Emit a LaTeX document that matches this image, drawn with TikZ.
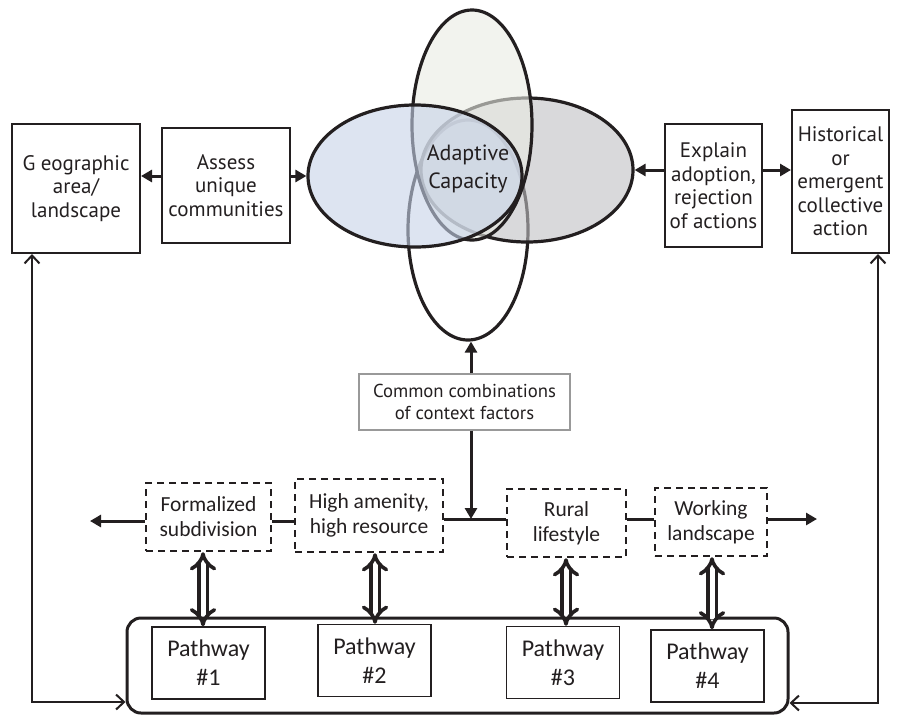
\documentclass[tikz,border=0pt]{standalone}
\usepackage{fontspec}
\setmainfont{PT Sans}
\newfontfamily\calfont{Carlito}
\usetikzlibrary{shapes.geometric,arrows.meta}
\definecolor{ink}{HTML}{231F20}
\definecolor{fillL}{HTML}{C6D2E8}
\definecolor{fillR}{HTML}{C0C0C3}
\definecolor{fillT}{HTML}{E9EBE3}
\begin{document}
\begin{tikzpicture}[x=1pt,y=-1pt,
  txt/.style={align=center, inner sep=0pt, text=ink},
  topbox/.style={txt, draw=ink, line width=1.4pt, font=\fontsize{21}{23.5}\selectfont},
  bigbox/.style={topbox, line width=2pt},
  ell/.style={ellipse, draw=ink, line width=3.2pt, inner sep=0pt, fill opacity=0.6},
  dbox/.style={txt, draw=ink, line width=2.4pt, dash pattern=on 7pt off 5pt, font=\calfont\fontsize{21.5}{25}\selectfont},
  pbox/.style={txt, draw=ink, line width=1.5pt, minimum width=113pt, minimum height=72pt, font=\calfont\fontsize{24}{29}\selectfont},
  farr/.style={draw=ink, line width=3pt, -{Triangle[length=11pt,width=12pt]}},
  fline/.style={draw=ink, line width=3pt},
  oarr/.style={draw=ink, line width=2pt, {Straight Barb[length=8pt,width=15pt]}-{Straight Barb[length=8pt,width=15pt]}},
  darr/.style={draw=ink, line width=3.6pt, double=white, double distance=5pt, {Implies}-{Implies}}
]
\useasboundingbox (0,0) rectangle (899,716);

% top boxes
\node[bigbox, minimum width=128pt, minimum height=129pt] (geo) at (76,188.5) {G eographic\\area/\\landscape};
\node[topbox, minimum width=128pt, minimum height=115pt] (assess) at (226,185.5) {Assess\\unique\\communities};
\node[topbox, minimum width=97pt, minimum height=123pt] (explain) at (713.5,185.5) {Explain\\adoption,\\rejection\\of actions};
\node[bigbox, minimum width=97pt, minimum height=143pt] (hist) at (840.5,181.5) {Historical\\or\\emergent\\collective\\action};

% ellipses
\node[ell, fill=white, fill opacity=0, minimum width=120pt, minimum height=220pt] (eB) at (468,230) {};
\node[ell, fill=fillR, minimum width=212pt, minimum height=144pt] (eR) at (527,170) {};
\node[ell, fill=fillT, minimum width=120pt, minimum height=230pt] (eT) at (472,125) {};
\node[ell, fill=fillL, minimum width=214pt, minimum height=142pt] (eL) at (415,176) {};
\node[txt, font=\fontsize{22}{28}\selectfont] (ac) at (468,169) {Adaptive\\Capacity};

% top arrows
\draw[farr] (assess.west |- eL.west) -- (geo.east |- eL.west);
\draw[farr] (assess.east |- eL.west) -- (eL.west);
\draw[farr] (explain.west |- eR.east) -- (eR.east);
\draw[farr] (explain.east |- eR.east) -- (hist.west |- eR.east);

% common box
\node[txt, draw=gray!80, line width=1.2pt, minimum width=211pt, minimum height=56pt, font=\fontsize{18.7}{21.5}\selectfont] (common) at (464.5,402) {Common combinations\\of context factors};
\coordinate (j) at (471,519);
\draw[farr] (common.north -| j) -- (eB.south -| j);
\draw[farr] (common.south -| j) -- (j);

% dashed boxes
\node[dbox, minimum width=125pt, minimum height=68pt] (formal) at (208.5,517) {Formalized\\subdivision};
\node[dbox, minimum width=148pt, minimum height=73pt] (amen) at (369,515.5) {High amenity,\\high resource};
\node[dbox, minimum width=119pt, minimum height=68pt] (rural) at (566.5,523) {Rural\\lifestyle};
\node[dbox, minimum width=112pt, minimum height=68pt] (work) at (711,522) {Working\\landscape};
\coordinate (lend) at (90,521);
\coordinate (rend) at (817,519);
\draw[farr] (formal.west |- lend) -- (lend);
\draw[fline] (formal.east |- lend) -- (amen.west |- lend);
\draw[fline] (amen.east |- j) -- (rural.west |- j);
\draw[fline] (rural.east |- rend) -- (work.west |- rend);
\draw[farr] (work.east |- rend) -- (rend);

% rounded container and pathways
\node[draw=ink, line width=3pt, rounded corners=14pt, minimum width=661pt, minimum height=95pt, inner sep=0pt] (rbox) at (457.5,665.5) {};
\node[pbox] (p1) at (208.5,663) {Pathway\\\#1};
\node[pbox] (p2) at (374.5,660.5) {Pathway\\\#2};
\node[pbox] (p3) at (563,662.5) {Pathway\\\#3};
\node[pbox] (p4) at (707.5,666) {Pathway\\\#4};

% double arrows
\coordinate (d1) at (203,0);
\coordinate (d2) at (375,0);
\coordinate (d3) at (566,0);
\coordinate (d4) at (712,0);
\draw[darr] (d1 |- formal.south) -- (d1 |- p1.north);
\draw[darr] (d2 |- amen.south) -- (d2 |- p2.north);
\draw[darr] (d3 |- rural.south) -- (d3 |- p3.north);
\draw[darr] (d4 |- work.south) -- (d4 |- p4.north);

% side connectors
\coordinate (lc) at (32,702);
\coordinate (rc) at (878,703);
\draw[oarr] (geo.south -| lc) -- (lc) -- (lc -| rbox.west);
\draw[oarr] (hist.south -| rc) -- (rc) -- (rc -| rbox.east);
\end{tikzpicture}
\end{document}
